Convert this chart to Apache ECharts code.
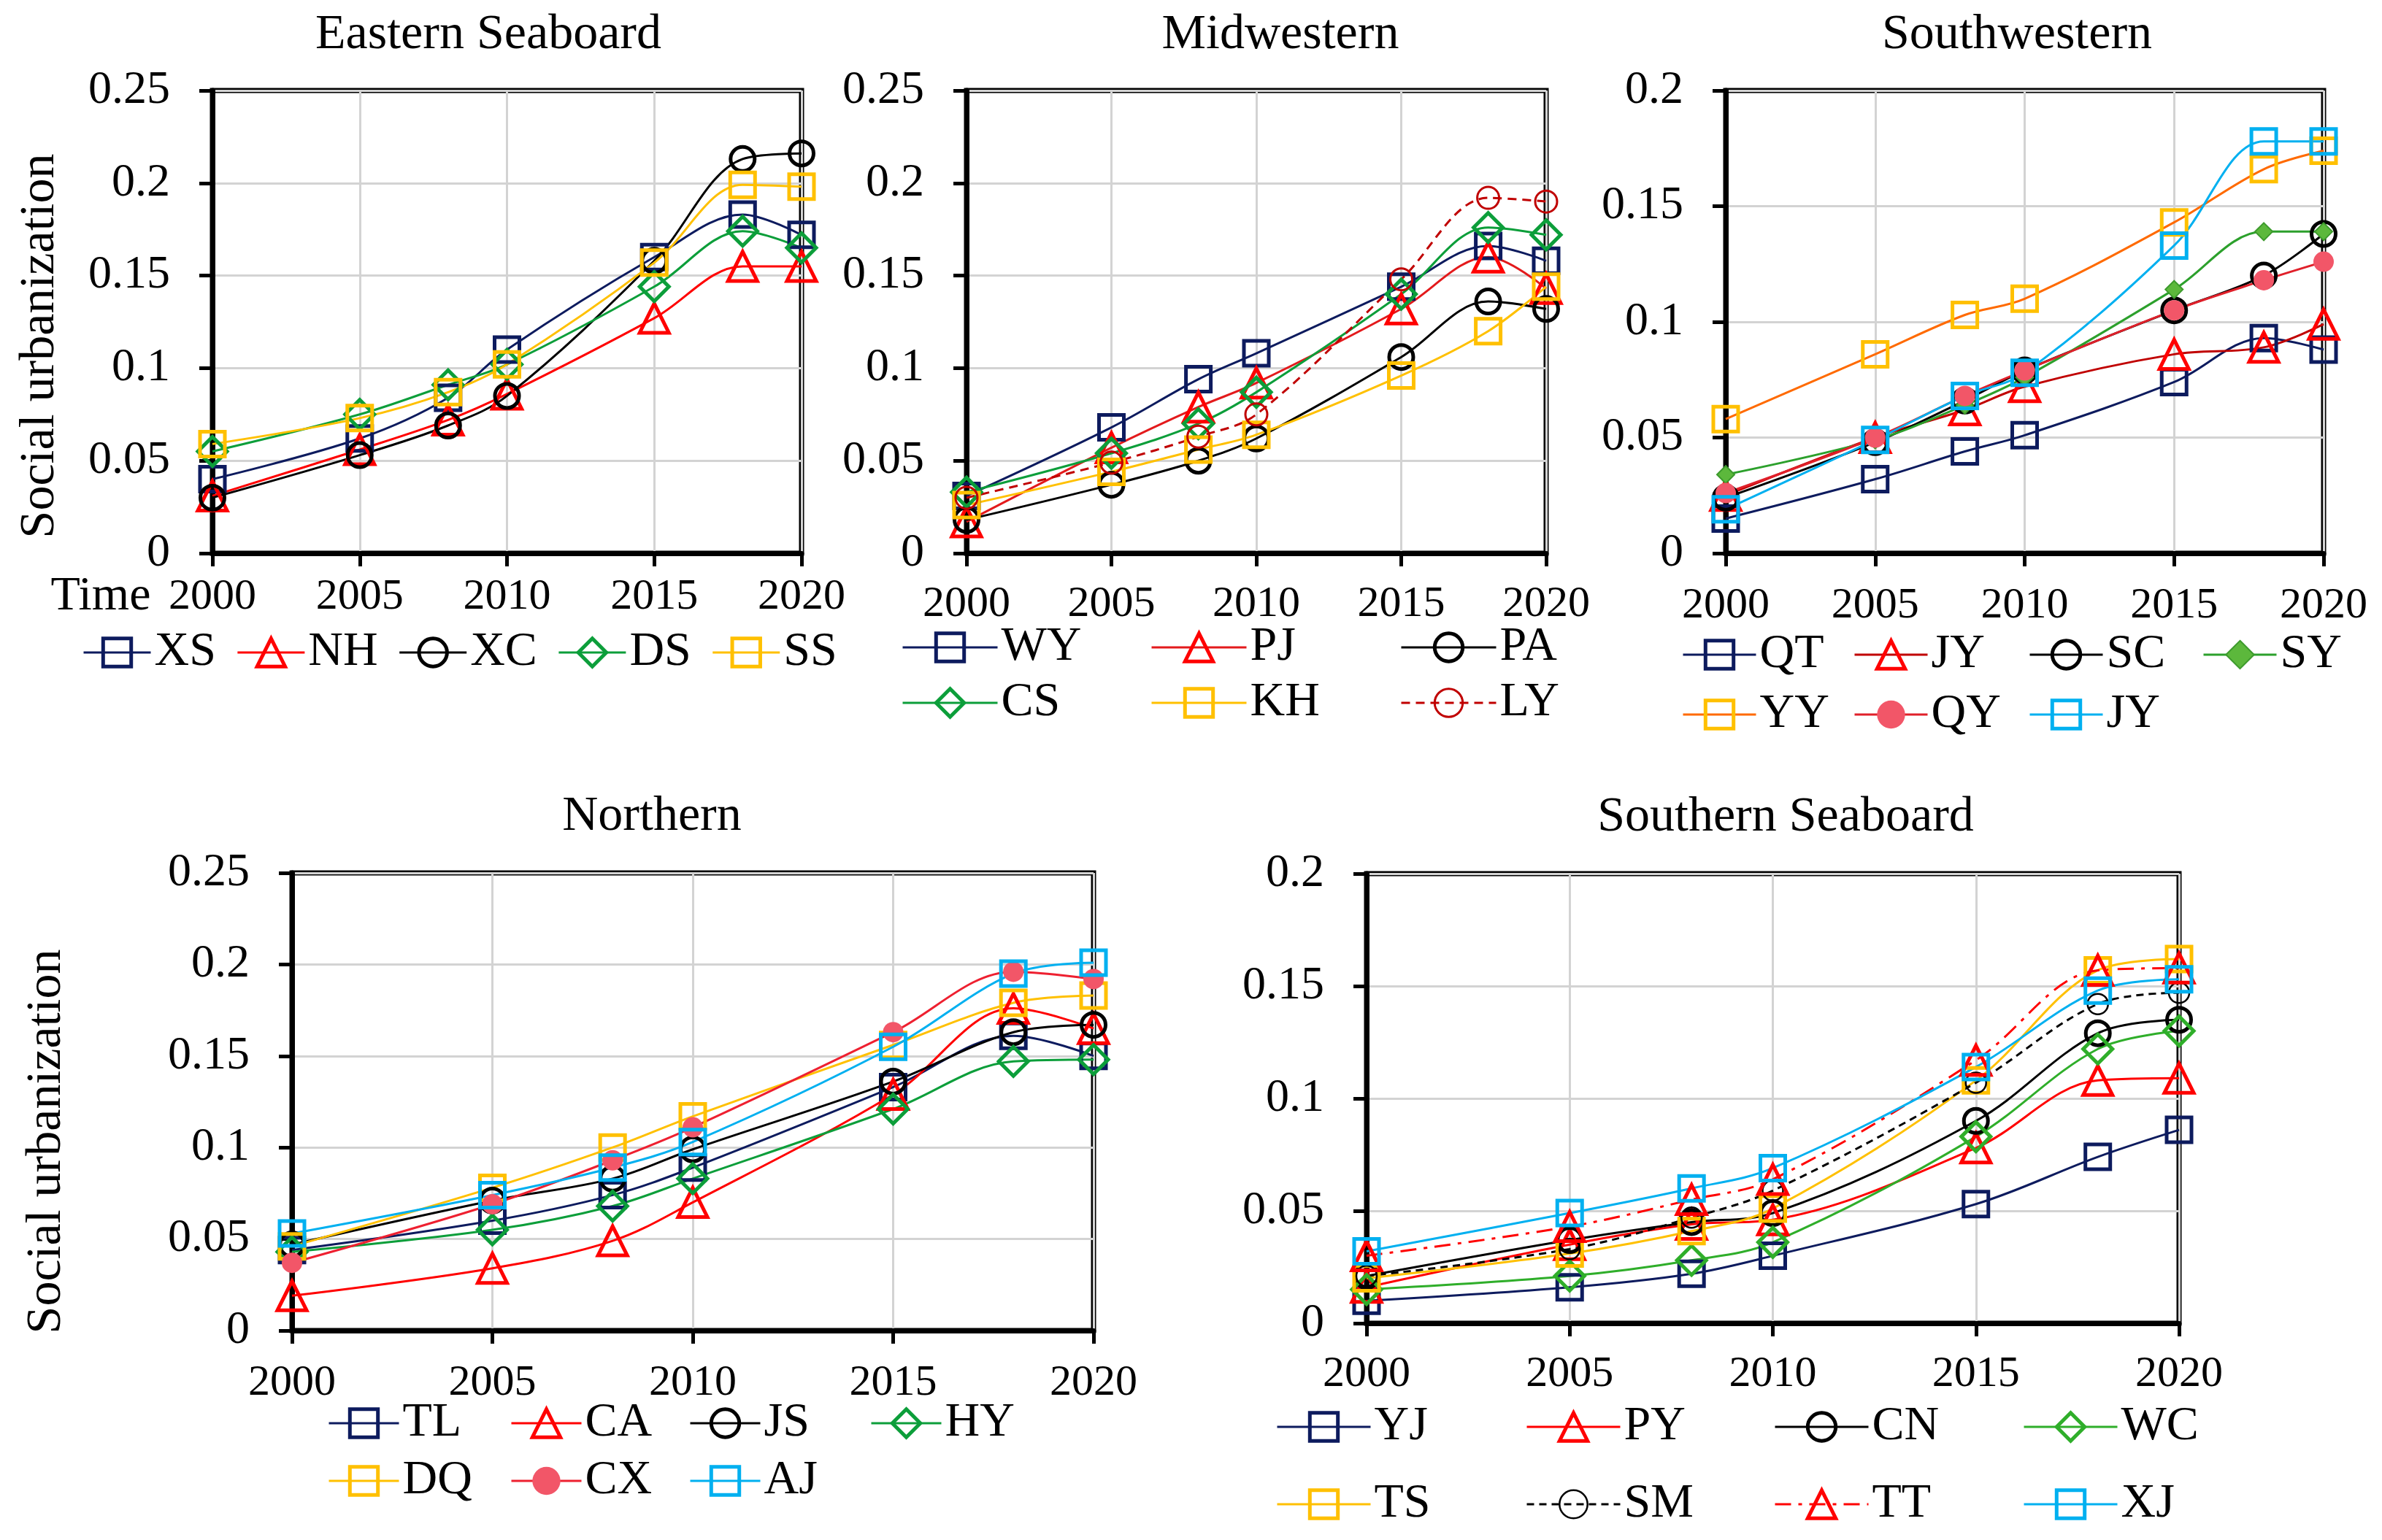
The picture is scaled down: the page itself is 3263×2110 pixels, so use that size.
<!DOCTYPE html>
<html>
<head>
<meta charset="utf-8">
<title>Social urbanization</title>
<script src="https://cdn.jsdelivr.net/npm/echarts@6/dist/echarts.min.js"></script>
<style>
  html, body { margin: 0; padding: 0; background: #fff; }
  #chart { width: 3263px; height: 2110px; }
</style>
</head>
<body>
<div id="chart"></div>
<script>
// shared x values (years)
const years = [2000, 2005, 2008, 2010, 2015, 2018, 2020];
const panelTitles = ['Eastern Seaboard', 'Midwestern', 'Southwestern', 'Northern', 'Southern Seaboard'];
const panelYMax = [0.25, 0.25, 0.2, 0.25, 0.2];

// Eastern Seaboard
const XS = [0.040, 0.062, 0.084, 0.110, 0.160, 0.183, 0.172];
const NH = [0.031, 0.056, 0.072, 0.086, 0.127, 0.155, 0.155];
const XC = [0.030, 0.053, 0.069, 0.085, 0.158, 0.213, 0.216];
const DS = [0.055, 0.075, 0.091, 0.102, 0.144, 0.174, 0.165];
const SS = [0.059, 0.073, 0.087, 0.102, 0.157, 0.199, 0.198];

// Midwestern
const WY = [0.031, 0.068, 0.094, 0.108, 0.144, 0.166, 0.158];
const PJ = [0.017, 0.057, 0.079, 0.092, 0.132, 0.160, 0.143];
const PA = [0.018, 0.037, 0.050, 0.062, 0.106, 0.136, 0.132];
const CS = [0.033, 0.054, 0.070, 0.087, 0.140, 0.176, 0.172];
const KH = [0.026, 0.044, 0.056, 0.064, 0.096, 0.120, 0.144];
const LY = [0.030, 0.049, 0.063, 0.075, 0.148, 0.192, 0.190];

// Southwestern
const QT = [0.015, 0.032, 0.044, 0.051, 0.074, 0.093, 0.088];
const JY = [0.025, 0.050, 0.062, 0.072, 0.086, 0.089, 0.099];
const SC = [0.024, 0.048, 0.066, 0.079, 0.105, 0.120, 0.138];
const SY = [0.034, 0.049, 0.064, 0.076, 0.114, 0.139, 0.139];
const YY = [0.058, 0.086, 0.103, 0.110, 0.143, 0.166, 0.174];
const QY = [0.026, 0.050, 0.068, 0.079, 0.105, 0.118, 0.126];
const JY2 = [0.019, 0.049, 0.068, 0.078, 0.133, 0.178, 0.178];

// Northern
const TL = [0.044, 0.060, 0.074, 0.089, 0.133, 0.161, 0.150];
const CA = [0.019, 0.034, 0.049, 0.070, 0.129, 0.176, 0.165];
const JS = [0.047, 0.071, 0.083, 0.099, 0.136, 0.163, 0.167];
const HY = [0.043, 0.055, 0.068, 0.083, 0.121, 0.147, 0.148];
const DQ = [0.046, 0.078, 0.100, 0.117, 0.156, 0.179, 0.183];
const CX = [0.037, 0.069, 0.093, 0.111, 0.163, 0.196, 0.192];
const AJ = [0.053, 0.074, 0.089, 0.103, 0.155, 0.195, 0.201];

// Southern Seaboard
const YJ = [0.010, 0.016, 0.022, 0.030, 0.053, 0.074, 0.086];
const PY = [0.016, 0.035, 0.044, 0.046, 0.078, 0.108, 0.109];
const CN = [0.021, 0.037, 0.045, 0.049, 0.090, 0.129, 0.135];
const WC = [0.015, 0.021, 0.028, 0.036, 0.083, 0.122, 0.130];
const TS = [0.020, 0.031, 0.041, 0.051, 0.108, 0.157, 0.162];
const SM = [0.021, 0.033, 0.047, 0.059, 0.107, 0.142, 0.147];
const TT = [0.030, 0.043, 0.055, 0.064, 0.117, 0.157, 0.158];
const XJ = [0.032, 0.049, 0.060, 0.069, 0.114, 0.148, 0.153];

const FONT = '"Liberation Serif", "Times New Roman", serif';
const NAVY = '#0d1b5e', RED = '#ff0000', BLACK = '#000000', GREEN = '#0c9e3a';
const GOLD = '#ffc000', SKY = '#00b0f0', ORANGE = '#ff6a00', PINK = '#f25668';

// marker / line styles
const sq = (c, line) => ({ symbol: 'rect', size: 34, stroke: c, line: line || c });
const tri = (c, line) => ({ symbol: 'triangle', size: 40, stroke: c, line: line || c });
const circ = (c, line) => ({ symbol: 'circle', size: 33, stroke: c, line: line || c });
const dia = (c, line) => ({ symbol: 'diamond', size: 40, stroke: c, line: line || c });

const seriesDefs = [
  // panel, name, data, style
  [0, 'XS', XS, sq(NAVY)],
  [0, 'NH', NH, tri(RED)],
  [0, 'XC', XC, circ(BLACK)],
  [0, 'DS', DS, dia(GREEN)],
  [0, 'SS', SS, sq(GOLD)],

  [1, 'WY', WY, sq(NAVY)],
  [1, 'PJ', PJ, tri(RED, '#e31a1c')],
  [1, 'PA', PA, circ(BLACK)],
  [1, 'CS', CS, dia(GREEN)],
  [1, 'KH', KH, sq(GOLD)],
  [1, 'LY', LY, Object.assign(circ('#c00000'), { bw: 3, size: 30, dash: [12, 8] })],

  [2, 'QT', QT, sq(NAVY)],
  [2, 'JY', JY, tri(RED, '#c00000')],
  [2, 'SC', SC, circ(BLACK)],
  [2, 'SY', SY, Object.assign(dia('#3c9a2c', '#2ca02c'), { size: 24, fill: '#5cb83c', bw: 2 })],
  [2, 'YY', YY, sq(GOLD, ORANGE)],
  [2, 'QY', QY, Object.assign(circ(PINK, '#e0202a'), { size: 28, fill: PINK, bw: 0 })],
  [2, 'JY ', JY2, sq(SKY)],

  [3, 'TL', TL, sq(NAVY)],
  [3, 'CA', CA, tri(RED)],
  [3, 'JS', JS, circ(BLACK)],
  [3, 'HY', HY, dia(GREEN)],
  [3, 'DQ', DQ, sq(GOLD)],
  [3, 'CX', CX, Object.assign(circ(PINK, '#ee2030'), { size: 28, fill: PINK, bw: 0 })],
  [3, 'AJ', AJ, sq(SKY)],

  [4, 'YJ', YJ, sq(NAVY)],
  [4, 'PY', PY, tri(RED)],
  [4, 'CN', CN, circ(BLACK)],
  [4, 'WC', WC, dia('#2fae2a')],
  [4, 'TS', TS, sq(GOLD)],
  [4, 'SM', SM, Object.assign(circ(BLACK), { size: 28, bw: 2.5, dash: [10, 7] })],
  [4, 'TT', TT, Object.assign(tri(RED), { dash: [22, 10, 5, 10] })],
  [4, 'XJ', XJ, sq(SKY)]
];

const grids = [
  { left: 291, top: 124, width: 807, height: 634 },
  { left: 1324, top: 124, width: 794, height: 634 },
  { left: 2364, top: 124, width: 819, height: 634 },
  { left: 400, top: 1196, width: 1098, height: 627 },
  { left: 1872, top: 1197, width: 1113, height: 616 }
];
const xLabelMargin = [30, 40, 42, 42, 40];

const series = seriesDefs.map(([p, name, vals, st]) => ({
  name: name,
  type: 'line',
  xAxisIndex: p,
  yAxisIndex: p,
  data: years.map((y, i) => [y, vals[i]]),
  smooth: 0.35,
  clip: false,
  symbol: st.symbol,
  symbolSize: st.size,
  lineStyle: { color: st.line, width: 3, type: st.dash || 'solid' },
  itemStyle: {
    color: st.fill || 'rgba(255,255,255,0)',
    borderColor: st.stroke,
    borderWidth: st.bw === undefined ? 5 : st.bw
  },
  emphasis: { disabled: true }
}));

const bwOf = {};
seriesDefs.forEach(([p, name, vals, st]) => { bwOf[name] = st.bw === undefined ? 5 : st.bw; });
const legendItems = names => names.map(n => ({ name: n, itemStyle: { borderWidth: bwOf[n] } }));

// legend columns: [panel lefts], names per column, top, icon width, row gap
const legendLayout = [
  { lefts: [113], cols: [['XS', 'NH', 'XC', 'DS', 'SS']], top: 861, iw: 92, gap: 28, orient: 'horizontal' },
  { lefts: [1235, 1576, 1918], cols: [['WY', 'CS'], ['PJ', 'KH'], ['PA', 'LY']], top: 854, iw: 130, gap: 10 },
  { lefts: [2304, 2539, 2779, 3017], cols: [['QT', 'YY'], ['JY', 'QY'], ['SC', 'JY '], ['SY']], top: 864, iw: 100, gap: 16 },
  { lefts: [449, 699, 944, 1192], cols: [['TL', 'DQ'], ['CA', 'CX'], ['JS', 'AJ'], ['HY']], top: 1917, iw: 96, gap: 13 },
  { lefts: [1748, 2090, 2430, 2771], cols: [['YJ', 'TS'], ['PY', 'SM'], ['CN', 'TT'], ['WC', 'XJ']], top: 1922, iw: 128, gap: 40 }
];

const legends = [];
legendLayout.forEach(L => {
  L.cols.forEach((names, ci) => {
    legends.push({
      orient: L.orient || 'vertical',
      left: L.lefts[ci],
      top: L.top,
      padding: 0,
      itemWidth: L.iw,
      itemHeight: 48,
      itemGap: L.gap,
      selectedMode: false,
      data: legendItems(names),
      formatter: n => n.trim(),
      lineStyle: { width: 3 },
      itemStyle: { borderWidth: 5 },
      textStyle: { fontFamily: FONT, fontSize: 66, color: '#000' }
    });
  });
});

const gridLine = { show: true, lineStyle: { color: '#d3d3d3', width: 3 } };
const xAxes = grids.map((g, i) => ({
  type: 'value', gridIndex: i, min: 2000, max: 2020, interval: 5,
  axisLine: { show: true, lineStyle: { color: '#000', width: 7 } },
  axisTick: { show: true, length: 18, lineStyle: { color: '#000', width: 5 } },
  axisLabel: { margin: xLabelMargin[i], fontFamily: FONT, fontSize: 60, color: '#000', formatter: v => String(v) },
  splitLine: gridLine
}));
const yAxes = grids.map((g, i) => ({
  type: 'value', gridIndex: i, min: 0, max: panelYMax[i], interval: 0.05,
  axisLine: { show: true, lineStyle: { color: '#000', width: 7 } },
  axisTick: { show: true, length: 18, lineStyle: { color: '#000', width: 5 } },
  axisLabel: { margin: 58, fontFamily: FONT, fontSize: 64, color: '#000' },
  splitLine: gridLine
}));

const titlePos = [[669, 48], [1754, 48], [2763, 48], [893, 1119], [2446, 1120]];
const graphics = panelTitles.map((t, i) => ({
  type: 'text', x: titlePos[i][0], y: titlePos[i][1],
  style: { text: t, fontFamily: FONT, fontSize: 68, fill: '#000', align: 'center', verticalAlign: 'middle' }
}));
graphics.push(
  { type: 'text', x: 55, y: 474, rotation: Math.PI / 2,
    style: { text: 'Social urbanization', fontFamily: FONT, fontSize: 68, fill: '#000', align: 'center', verticalAlign: 'middle' } },
  { type: 'text', x: 64, y: 1564, rotation: Math.PI / 2,
    style: { text: 'Social urbanization', fontFamily: FONT, fontSize: 68, fill: '#000', align: 'center', verticalAlign: 'middle' } },
  { type: 'text', x: 138, y: 818,
    style: { text: 'Time', fontFamily: FONT, fontSize: 66, fill: '#000', align: 'center', verticalAlign: 'middle' } }
);

const chart = echarts.init(document.getElementById('chart'));
chart.setOption({
  backgroundColor: '#fff',
  animation: false,
  grid: grids.map(g => Object.assign({ show: true, borderColor: '#000', borderWidth: 7, backgroundColor: 'transparent' }, g)),
  xAxis: xAxes,
  yAxis: yAxes,
  legend: legends,
  graphic: graphics,
  series: series
});
</script>
</body>
</html>
